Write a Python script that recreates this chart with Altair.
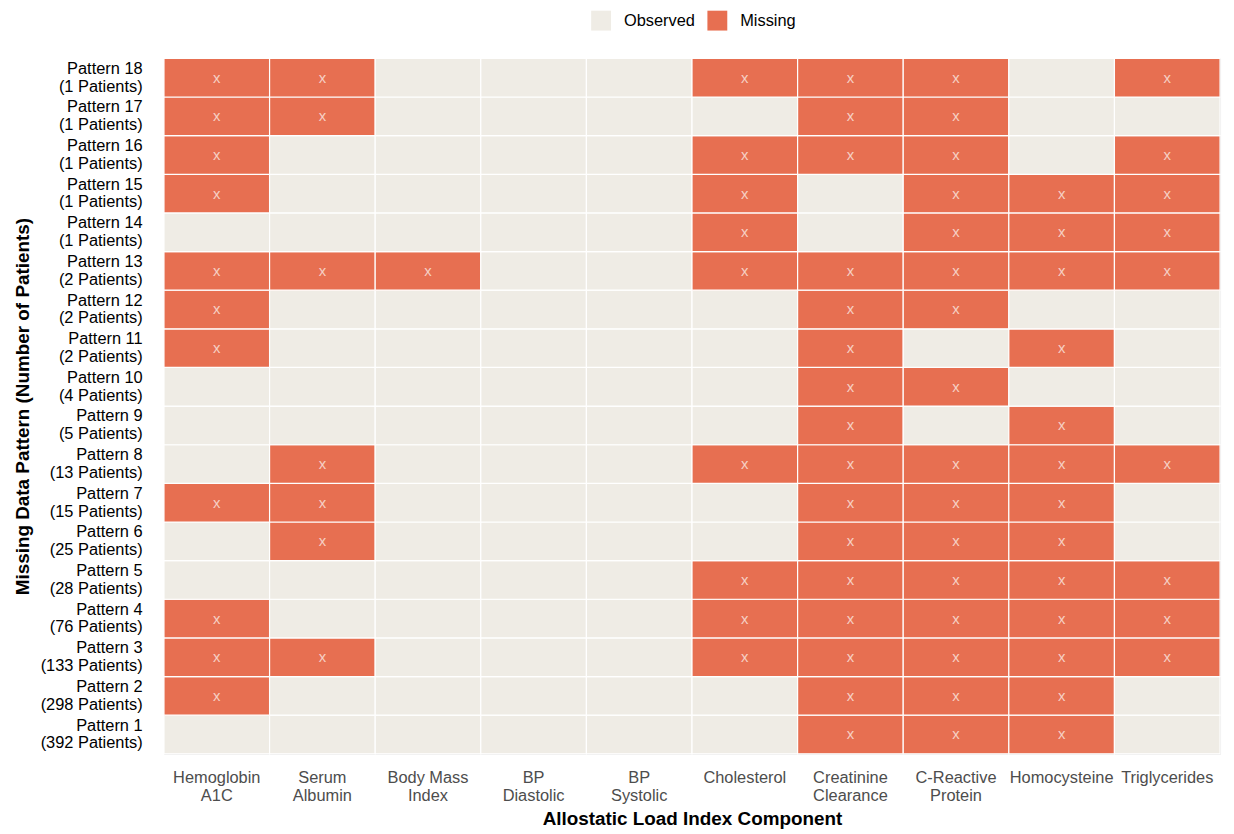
import altair as alt
import pandas as pd

components = ["Hemoglobin\nA1C", "Serum\nAlbumin", "Body Mass\nIndex", "BP\nDiastolic",
              "BP\nSystolic", "Cholesterol", "Creatinine\nClearance", "C-Reactive\nProtein",
              "Homocysteine", "Triglycerides"]
patterns = [f"Pattern {i}" for i in range(1, 19)]
patients = [392, 298, 133, 76, 28, 25, 15, 13, 5, 4, 2, 2, 2, 1, 1, 1, 1, 1]
# 1 = missing, 0 = observed; rows Pattern 1..18, columns as components
missing = [
    [0, 0, 0, 0, 0, 0, 1, 1, 1, 0],
    [1, 0, 0, 0, 0, 0, 1, 1, 1, 0],
    [1, 1, 0, 0, 0, 1, 1, 1, 1, 1],
    [1, 0, 0, 0, 0, 1, 1, 1, 1, 1],
    [0, 0, 0, 0, 0, 1, 1, 1, 1, 1],
    [0, 1, 0, 0, 0, 0, 1, 1, 1, 0],
    [1, 1, 0, 0, 0, 0, 1, 1, 1, 0],
    [0, 1, 0, 0, 0, 1, 1, 1, 1, 1],
    [0, 0, 0, 0, 0, 0, 1, 0, 1, 0],
    [0, 0, 0, 0, 0, 0, 1, 1, 0, 0],
    [1, 0, 0, 0, 0, 0, 1, 0, 1, 0],
    [1, 0, 0, 0, 0, 0, 1, 1, 0, 0],
    [1, 1, 1, 0, 0, 1, 1, 1, 1, 1],
    [0, 0, 0, 0, 0, 1, 0, 1, 1, 1],
    [1, 0, 0, 0, 0, 1, 0, 1, 1, 1],
    [1, 0, 0, 0, 0, 1, 1, 1, 0, 1],
    [1, 1, 0, 0, 0, 0, 1, 1, 0, 0],
    [1, 1, 0, 0, 0, 1, 1, 1, 0, 1],
]

rows = []
for i, p in enumerate(patterns):
    label = f"{p}\n({patients[i]} Patients)"
    for j, c in enumerate(components):
        rows.append({"pattern": label, "component": c,
                     "status": "Missing" if missing[i][j] else "Observed",
                     "mark": "x" if missing[i][j] else ""})
df = pd.DataFrame(rows)
y_order = [f"{patterns[i]}\n({patients[i]} Patients)" for i in range(17, -1, -1)]

FONT = "Liberation Sans"

base = alt.Chart(df).encode(
    x=alt.X("component:N", sort=components, title="Allostatic Load Index Component",
            axis=alt.Axis(labelExpr="split(datum.label, '\\n')", labelAngle=0,
                          labelFontSize=16.5, labelColor="#4d4d4d", labelFont=FONT,
                          labelPadding=16, labelLineHeight=18,
                          titleFontSize=19, titleFont=FONT, titleFontWeight="bold",
                          titleColor="black", titlePadding=6,
                          ticks=False, domain=False, grid=False)),
    y=alt.Y("pattern:N", sort=y_order, title="Missing Data Pattern (Number of Patients)",
            axis=alt.Axis(labelExpr="split(datum.label, '\\n')", labelFontSize=16.5,
                          labelColor="black", labelFont=FONT, labelPadding=22,
                          labelLineHeight=18, labelOffset=-9,
                          titleFontSize=19, titleFont=FONT, titleFontWeight="bold",
                          titleColor="black", titlePadding=8,
                          ticks=False, domain=False, grid=False)),
)

tiles = base.mark_rect(stroke="white", strokeWidth=1.2).encode(
    color=alt.Color("status:N",
                    scale=alt.Scale(domain=["Observed", "Missing"], range=["#EFECE5", "#E76F51"]),
                    legend=alt.Legend(title=None, orient="none", direction="horizontal",
                                      legendX=430, legendY=-48,
                                      symbolType="square", symbolSize=400, symbolStrokeWidth=0,
                                      labelFontSize=16.5, labelFont=FONT, labelColor="black",
                                      labelOffset=13, columnPadding=12))
)

texts = base.mark_text(fontSize=15, font=FONT, color="#F6CFC4", baseline="middle").encode(
    text="mark:N"
)

chart = (tiles + texts).properties(
    width=1063, height=700,
    padding={"top": 0, "left": 5, "right": 5, "bottom": 0}
).configure_view(stroke=None).configure_scale(
    bandPaddingInner=0, bandPaddingOuter=0
).configure(background="white")

chart.save("out.html", embed_options={"renderer": "svg", "actions": False})
